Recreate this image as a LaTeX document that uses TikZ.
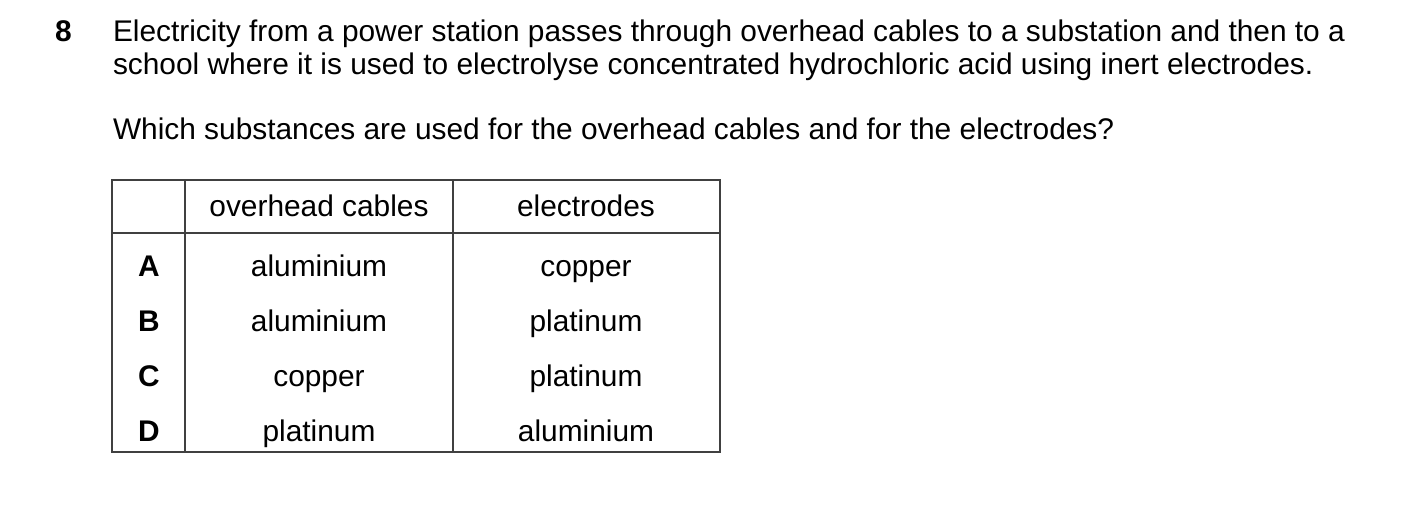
\documentclass[tikz,border=0pt]{standalone}
\usepackage{fontspec}
\setmainfont{Liberation Sans}
\begin{document}
\begin{tikzpicture}[x=0.02cm,y=-0.02cm,
  every node/.style={inner sep=0pt, outer sep=0pt, font=\fontsize{17}{20}\selectfont},
  txt/.style={anchor=base west},
  cell/.style={anchor=base},
  key/.style={anchor=base, font=\fontsize{17}{20}\selectfont\bfseries},
  rule/.style={line width=0.8pt, color=black!75}]
\useasboundingbox (0,0) rectangle (1403,510);
\node[txt,font=\fontsize{17}{20}\selectfont\bfseries] (num) at (55,42) {8};
\node[txt] (l1) at (113,42) {Electricity from a power station passes through overhead cables to a substation and then to a};
\node[txt] (l2) at (113,75) {school where it is used to electrolyse concentrated hydrochloric acid using inert electrodes.};
\node[txt] (l3) at (113,139) {Which substances are used for the overhead cables and for the electrodes?};

\draw[rule] (112,180) rectangle (720,452);
\draw[rule] (185,180) -- (185,452);
\draw[rule] (453,180) -- (453,452);
\draw[rule] (112,233) -- (720,233);

\node[cell] (h1) at (319,216) {overhead cables};
\node[cell] (h2) at (586,216) {electrodes};

\node[key] (ka) at (149,276) {A};
\node[cell] (ca) at (319,276) {aluminium};
\node[cell] (ea) at (586,276) {copper};
\node[key] (kb) at (149,331) {B};
\node[cell] (cb) at (319,331) {aluminium};
\node[cell] (eb) at (586,331) {platinum};
\node[key] (kc) at (149,386) {C};
\node[cell] (cc) at (319,386) {copper};
\node[cell] (ec) at (586,386) {platinum};
\node[key] (kd) at (149,441) {D};
\node[cell] (cd) at (319,441) {platinum};
\node[cell] (ed) at (586,441) {aluminium};
\end{tikzpicture}
\end{document}
